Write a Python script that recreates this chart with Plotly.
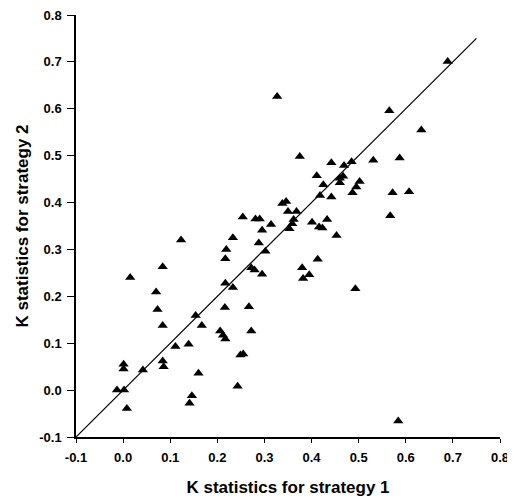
import plotly.graph_objects as go

# K statistics
k_strategy1 = [0.689, 0.565, 0.633, 0.375, 0.442, 0.469, 0.485, 0.531, 0.587, 0.411,
               0.425, 0.460, 0.467, 0.460, 0.502, 0.495, 0.487, 0.418, 0.442, 0.572,
               0.607, 0.567, 0.327, 0.338, 0.346, 0.350, 0.368, 0.362, 0.359, 0.353,
               0.401, 0.416, 0.423, 0.433, 0.453, 0.254, 0.281, 0.290, 0.314, 0.295,
               0.233, 0.288, 0.302, 0.413, 0.380, 0.395, 0.382, 0.272, 0.279, 0.295,
               0.233, 0.493, 0.267, 0.272, 0.249, 0.255, 0.243, 0.123, 0.084, 0.015,
               0.070, 0.073, 0.084, 0.219, 0.217, 0.217, 0.216, 0.154, 0.167, 0.206,
               0.212, 0.217, 0.111, 0.139, 0.001, 0.001, 0.084, 0.086, 0.042, 0.160,
               -0.013, 0.002, 0.146, 0.141, 0.008, 0.584]
k_strategy2 = [0.701, 0.596, 0.555, 0.498, 0.485, 0.479, 0.487, 0.490, 0.495, 0.457,
               0.438, 0.452, 0.456, 0.442, 0.445, 0.433, 0.421, 0.415, 0.412, 0.421,
               0.423, 0.372, 0.626, 0.398, 0.402, 0.381, 0.381, 0.364, 0.355, 0.344,
               0.358, 0.348, 0.346, 0.364, 0.330, 0.369, 0.365, 0.365, 0.353, 0.341,
               0.325, 0.314, 0.296, 0.279, 0.261, 0.246, 0.238, 0.261, 0.256, 0.247,
               0.219, 0.216, 0.178, 0.126, 0.075, 0.077, 0.008, 0.320, 0.263, 0.240,
               0.209, 0.172, 0.138, 0.300, 0.280, 0.228, 0.176, 0.159, 0.138, 0.126,
               0.117, 0.109, 0.093, 0.098, 0.055, 0.045, 0.062, 0.050, 0.043, 0.036,
               0.000, 0.000, -0.012, -0.028, -0.039, -0.066]

# identity line (y = x)
identity_x = [-0.1, 0.75]
identity_y = [-0.1, 0.75]

tick_vals = [-0.1, 0.0, 0.1, 0.2, 0.3, 0.4, 0.5, 0.6, 0.7, 0.8]
tick_text = ["-0.1", "0.0", "0.1", "0.2", "0.3", "0.4", "0.5", "0.6", "0.7", "0.8"]

FONT = "Liberation Sans, Arial, sans-serif"

fig = go.Figure()
fig.add_trace(go.Scatter(x=identity_x, y=identity_y, mode="lines",
                         line=dict(color="black", width=1.2), hoverinfo="skip",
                         showlegend=False))
fig.add_trace(go.Scatter(x=k_strategy1, y=k_strategy2, mode="markers",
                         marker=dict(symbol="triangle-up", size=9, color="black"),
                         showlegend=False))

axis_common = dict(
    tickmode="array", tickvals=tick_vals, ticktext=tick_text,
    showgrid=False, zeroline=False, showline=True, linecolor="black", linewidth=1.5,
    ticks="outside", tickwidth=1.2, tickcolor="black",
    tickfont=dict(family=FONT, size=13, color="black", weight="bold"),
    range=[-0.1, 0.8], automargin=False, ticklabeloverflow="allow",
)

# the page body adds an 8px offset, so the figure is sized to fit the 515x499 window
fig.update_layout(
    width=507, height=491,
    margin=dict(l=68, r=15, t=7, b=62),
    paper_bgcolor="white", plot_bgcolor="white",
    xaxis=dict(**axis_common, ticklen=4, ticklabelstandoff=4,
               title=dict(text="<b>K statistics for strategy 1</b>",
                          font=dict(family=FONT, size=17, color="black"), standoff=17)),
    yaxis=dict(**axis_common, ticklen=7, ticklabelstandoff=3,
               title=dict(text="<b>K statistics for strategy 2</b>",
                          font=dict(family=FONT, size=17, color="black"), standoff=6)),
)

fig.write_html("out.html")
